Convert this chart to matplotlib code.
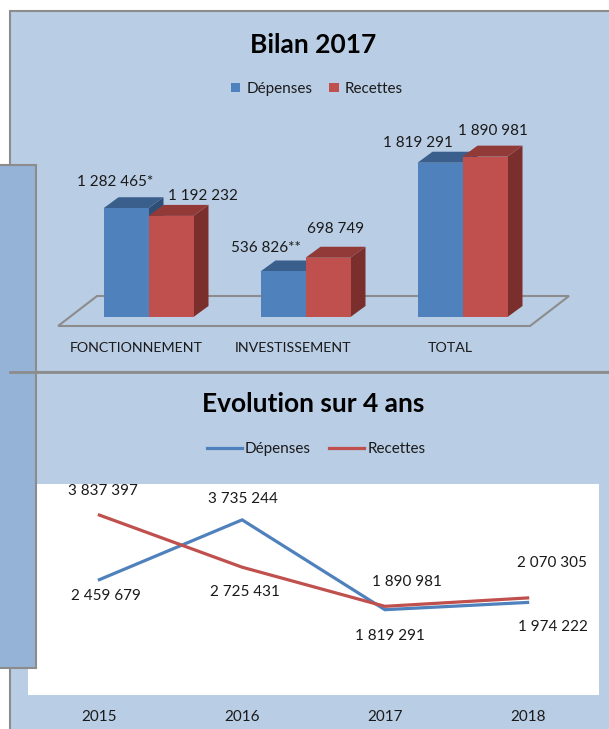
import matplotlib
matplotlib.use("Agg")
import matplotlib.pyplot as plt
from matplotlib.patches import Rectangle, Patch, Polygon
from matplotlib.lines import Line2D

plt.rcParams['font.family'] = ['Lato', 'DejaVu Sans']

# === Data ===
BAR_CATEGORIES = ["FONCTIONNEMENT", "INVESTISSEMENT", "TOTAL"]
BAR_DEPENSES = [1282465, 536826, 1819291]
BAR_RECETTES = [1192232, 698749, 1890981]
BAR_DEPENSES_NOTES = ["*", "**", ""]
BAR_RECETTES_NOTES = ["", "", ""]

YEARS = ["2015", "2016", "2017", "2018"]
EVO_DEPENSES = [2459679, 3735244, 1819291, 1974222]
EVO_RECETTES = [3837397, 2725431, 1890981, 2070305]

SERIES = ["Dépenses", "Recettes"]

# === Style ===
W, H = 609, 729
PANEL = "#B9CDE5"
SIDE = "#95B3D7"
BORDER = "#8C8C8C"
BLUE, BLUE_TOP, BLUE_SIDE = "#4F81BD", "#3A5F8D", "#2F4E75"
RED, RED_TOP, RED_SIDE = "#C0504D", "#923A38", "#7A2F2D"
TXT = "#1A1A1A"

# label offsets in pixels (dx, dy up)
BAR_DEP_OFF = [(-11, 26), (-17, 23), (-22, 20)]
BAR_REC_OFF = [(32, 20), (8, 29), (8, 26)]
EVO_DEP_OFF = [(7, -16), (1, 21), (5, -26), (25, -25)]
EVO_REC_OFF = [(4, 24), (3, -25), (22, 24), (24, 35)]


def fmt(v):
    return f"{v:,}".replace(",", " ")


def px_axes(fig, x0, y0, x1, y1, **kw):
    return fig.add_axes([x0 / W, 1 - y1 / H, (x1 - x0) / W, (y1 - y0) / H], **kw)


def bar3d(ax, x0, w, h, dx, dy, colors, z):
    front, top, side = colors
    ax.add_patch(Polygon([(x0 + w, 0), (x0 + w + dx, dy), (x0 + w + dx, h + dy), (x0 + w, h)],
                         closed=True, fc=side, ec="none", zorder=z, clip_on=False))
    ax.add_patch(Polygon([(x0, h), (x0 + w, h), (x0 + w + dx, h + dy), (x0 + dx, h + dy)],
                         closed=True, fc=top, ec="none", zorder=z, clip_on=False))
    ax.add_patch(Rectangle((x0, 0), w, h, fc=front, ec="none", zorder=z + 0.1, clip_on=False))


def main():
    fig = plt.figure(figsize=(W / 100, H / 100), dpi=100)

    # --- background panels ---
    bg = fig.add_axes([0, 0, 1, 1])
    bg.set_xlim(0, W)
    bg.set_ylim(H, 0)
    bg.axis("off")
    bg.add_patch(Rectangle((10, 11), 620, 361, fc=PANEL, ec=BORDER, lw=1.5))
    bg.add_patch(Rectangle((10, 372), 620, 380, fc=PANEL, ec=BORDER, lw=1.5))
    bg.plot([10, W], [372, 372], color=BORDER, lw=2)
    bg.add_patch(Rectangle((28, 484), 571, 211, fc="white", ec="none"))
    bg.add_patch(Rectangle((-5, 165), 41, 503, fc=SIDE, ec=BORDER, lw=1.5))

    # --- Bilan 2017 ---
    fig.text(313 / W, 1 - 45 / H, "Bilan 2017", ha="center", va="center",
             fontsize=19, fontweight="bold", color="black")
    handles = [Patch(fc=BLUE, ec="none"), Patch(fc=RED, ec="none")]
    fig.legend(handles, SERIES, loc="center", bbox_to_anchor=(317 / W, 1 - 89 / H), ncol=2,
               frameon=False, fontsize=11, handlelength=0.6, handleheight=0.6,
               handletextpad=0.4, columnspacing=1.1, labelcolor=TXT)

    ax = px_axes(fig, 40, 130, 600, 330)
    ax.axis("off")
    ppx = 157.0          # pixels per category
    ppv = 84.8e-6        # pixels per unit value
    ax.set_xlim((40 - 148.5) / ppx, (600 - 148.5) / ppx)
    ax.set_ylim(-(330 - 317) / ppv, (317 - 130) / ppv)
    bw = 45 / ppx
    ddx, ddy = 15 / ppx, 11 / ppv
    n = len(BAR_CATEGORIES)

    # floor
    fl, fr = -0.576, n - 1 + 0.43
    fy0, fy1 = -9 / ppv, 21 / ppv
    fdx = 39 / ppx
    ax.add_patch(Polygon([(fl, fy0), (fr, fy0), (fr + fdx, fy1), (fl + fdx, fy1)], closed=True,
                         fc="none", ec=BORDER, lw=1.5, zorder=1, clip_on=False))

    for i, cat in enumerate(BAR_CATEGORIES):
        bar3d(ax, i - bw, bw, BAR_DEPENSES[i], ddx, ddy, (BLUE, BLUE_TOP, BLUE_SIDE), 2)
        bar3d(ax, i, bw, BAR_RECETTES[i], ddx, ddy, (RED, RED_TOP, RED_SIDE), 3)
        ax.text(i - 12.5 / ppx, -31 / ppv, cat, ha="center", va="center", fontsize=10.3,
                color=TXT, clip_on=False)
        ox, oy = BAR_DEP_OFF[i]
        ax.annotate(fmt(BAR_DEPENSES[i]) + BAR_DEPENSES_NOTES[i], (i - bw / 2, BAR_DEPENSES[i]),
                    xytext=(ox, oy), textcoords="offset pixels", ha="center", va="center",
                    fontsize=11, color=TXT, annotation_clip=False)
        ox, oy = BAR_REC_OFF[i]
        ax.annotate(fmt(BAR_RECETTES[i]) + BAR_RECETTES_NOTES[i], (i + bw / 2, BAR_RECETTES[i]),
                    xytext=(ox, oy), textcoords="offset pixels", ha="center", va="center",
                    fontsize=11, color=TXT, annotation_clip=False)

    # --- Evolution sur 4 ans ---
    fig.text(313 / W, 1 - 404 / H, "Evolution sur 4 ans", ha="center", va="center",
             fontsize=19, fontweight="bold", color="black")
    lh = [Line2D([], [], color=BLUE, lw=2.3), Line2D([], [], color=RED, lw=2.3)]
    fig.legend(lh, SERIES, loc="center", bbox_to_anchor=(316 / W, 1 - 449 / H), ncol=2,
               frameon=False, fontsize=11, handlelength=2.3, handletextpad=0.2,
               columnspacing=1.2, labelcolor=TXT)

    axl = px_axes(fig, 28, 484, 599, 695)
    axl.patch.set_alpha(0)
    x = list(range(len(YEARS)))
    axl.plot(x, EVO_DEPENSES, color=BLUE, lw=2.3, solid_joinstyle="miter")
    axl.plot(x, EVO_RECETTES, color=RED, lw=2.3, solid_joinstyle="miter")
    axl.set_xlim(-0.5, len(YEARS) - 0.5)
    axl.set_ylim(0, 4.5e6)
    axl.set_xticks(x)
    axl.set_xticklabels(YEARS, fontsize=11, color=TXT)
    axl.tick_params(axis="x", length=0, pad=11)
    axl.set_yticks([])
    for s in axl.spines.values():
        s.set_visible(False)
    for i in x:
        ox, oy = EVO_DEP_OFF[i]
        axl.annotate(fmt(EVO_DEPENSES[i]), (i, EVO_DEPENSES[i]), xytext=(ox, oy),
                     textcoords="offset pixels", ha="center", va="center", fontsize=11,
                     color=TXT, annotation_clip=False)
        ox, oy = EVO_REC_OFF[i]
        axl.annotate(fmt(EVO_RECETTES[i]), (i, EVO_RECETTES[i]), xytext=(ox, oy),
                     textcoords="offset pixels", ha="center", va="center", fontsize=11,
                     color=TXT, annotation_clip=False)

    fig.savefig("out.png", dpi=100)


if __name__ == "__main__":
    main()
